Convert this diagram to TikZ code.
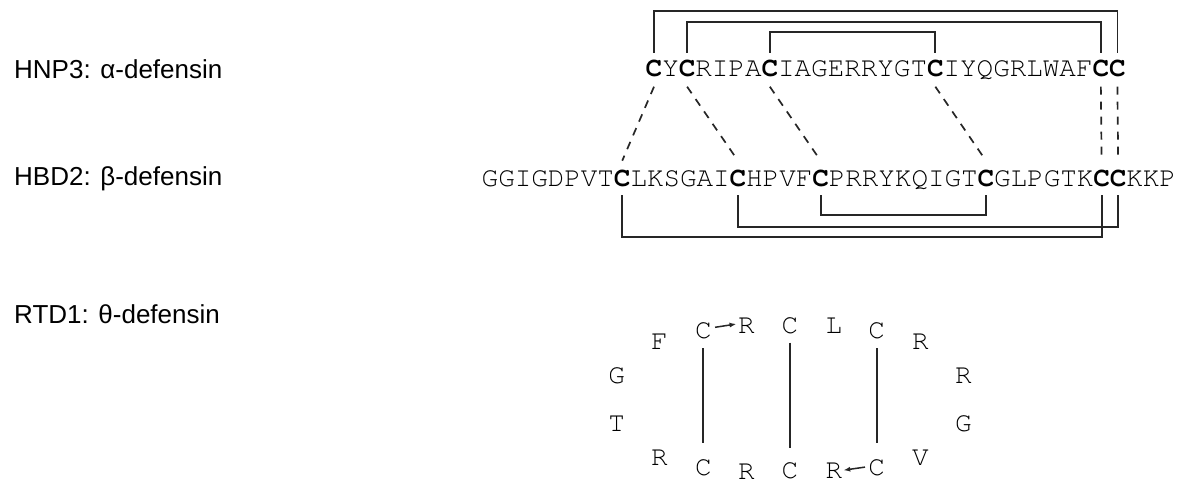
\documentclass[tikz,border=0pt]{standalone}
\usepackage[T1]{fontenc}
\usepackage{fontspec}
\setmainfont{Liberation Sans}
\usetikzlibrary{arrows.meta}

% Courier for the residue letters
\newcommand\seqfont{\fontencoding{T1}\fontfamily{pcr}\fontsize{27.6}{30}\selectfont}
\newcommand\cys{\textbf{C}}

\begin{document}
\begin{tikzpicture}[x=1pt,y=-1pt,
  res/.style={inner sep=0pt,anchor=base,font=\seqfont},
  lab/.style={inner sep=0pt,anchor=base west,font=\fontsize{26}{30}\selectfont},
  bond/.style={line width=1.8pt,black!85},
  align/.style={line width=1.7pt,black!85,dash pattern=on 8pt off 7pt},
  turn/.style={line width=1.5pt,black!85,-{Latex[length=7pt,width=5pt]}}]
\useasboundingbox (0,0) rectangle (1177,484);

% family labels
\node[lab] (l1) at (14,78.3)  {HNP3: α-defensin};
\node[lab] (l2) at (14,185.3) {HBD2: β-defensin};
\node[lab] (l3) at (14,323.3) {RTD1: θ-defensin};

% HNP3 sequence
\foreach \ch [count=\i from 0] in
  {\cys,Y,\cys,R,I,P,A,\cys,I,A,G,E,R,R,Y,G,T,\cys,I,Y,Q,G,R,L,W,A,F,\cys,\cys}
  \node[res] (a\i) at ({654+16.55*\i},76.7) {\ch};

% HBD2 sequence
\foreach \ch [count=\i from 0] in
  {G,G,I,G,D,P,V,T,\cys,L,K,S,G,A,I,\cys,H,P,V,F,\cys,P,R,R,Y,K,Q,I,G,T,\cys,G,L,P,G,T,K,\cys,\cys,K,K,P}
  \node[res] (b\i) at ({490+16.53*\i},186.7) {\ch};

% disulfide bonds above HNP3
\newcommand\topbond[3]{\draw[bond] ([yshift=24pt]#1.base) -- ([yshift=#3]#1.base) -| ([yshift=24pt]#2.base);}
\topbond{a0}{a28}{66pt}
\topbond{a2}{a27}{55pt}
\topbond{a7}{a17}{44.4pt}

% disulfide bonds below HBD2
\newcommand\lowbond[3]{\draw[bond] ([yshift=-8.3pt]#1.base) -- ([yshift=#3]#1.base) -| ([yshift=-8.3pt]#2.base);}
\lowbond{b20}{b30}{-28.3pt}
\lowbond{b15}{b38}{-40pt}
\lowbond{b8}{b37}{-50.3pt}

% cysteine alignment
\foreach \p/\q in {a0/b8,a2/b15,a7/b20,a17/b30,a27/b37,a28/b38}
  \draw[align] ([yshift=-10pt]\p.base) -- ([yshift=26pt]\q.base);

% RTD1 cyclic backbone
\node[res] (t1)  at (703.3,338.3) {C};
\node[res] (t2)  at (746.5,333.3) {R};
\node[res] (t3)  at (790,333.3)   {C};
\node[res] (t4)  at (834,333.3)   {L};
\node[res] (t5)  at (876.7,338.3) {C};
\node[res] (t6)  at (920.5,349.3) {R};
\node[res] (t7)  at (963.3,383.3) {R};
\node[res] (t8)  at (963.3,431.7) {G};
\node[res] (t9)  at (920.5,465)   {V};
\node[res] (t10) at (876.7,475.5) {C};
\node[res] (t11) at (834,478.5)   {R};
\node[res] (t12) at (790,478.5)   {C};
\node[res] (t13) at (746.5,479.5) {R};
\node[res] (t14) at (703.3,475.5) {C};
\node[res] (t15) at (659.5,465)   {R};
\node[res] (t16) at (616.7,431.7) {T};
\node[res] (t17) at (616.7,383.3) {G};
\node[res] (t18) at (659.5,349.3) {F};

% RTD1 disulfide ladder
\draw[bond] ([yshift=-9.7pt]t1.base) -- ([yshift=32.5pt]t14.base);
\draw[bond] ([yshift=-9.4pt]t3.base) -- ([yshift=30.2pt]t12.base);
\draw[bond] ([yshift=-9.7pt]t5.base) -- ([yshift=32.5pt]t10.base);

% chain direction
\draw[turn] ([xshift=11.7pt,yshift=11pt]t1.base) -- ([xshift=-10pt,yshift=9.3pt]t2.base);
\draw[turn] ([xshift=-11.7pt,yshift=8.4pt]t10.base) -- ([xshift=9.3pt,yshift=8.3pt]t11.base);
\end{tikzpicture}
\end{document}
